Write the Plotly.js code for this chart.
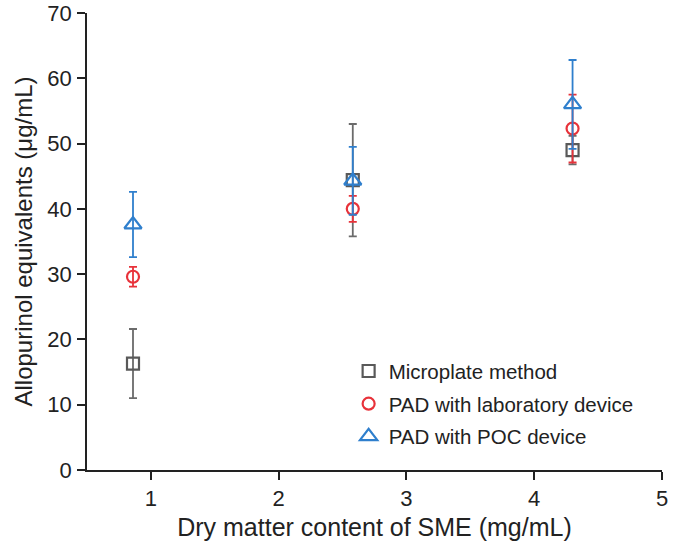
<!DOCTYPE html>
<html><head><meta charset="utf-8">
<script src="https://cdn.plot.ly/plotly-3.0.1.min.js"></script>
<style>body{margin:0;background:#fff}#chart{width:673px;height:547px}</style>
</head><body><div id="chart"></div>
<script>
const seriesNames = ["Microplate method", "PAD with laboratory device", "PAD with POC device"];
const xValues = [0.86, 2.58, 4.3];
const microplateY = [16.3, 44.4, 49.0];
const microplateErr = [5.3, 8.6, 2.2];
const labY = [29.6, 40.0, 52.3];
const labErr = [1.5, 2.0, 5.2];
const pocY = [37.6, 44.3, 56.0];
const pocErr = [5.0, 5.2, 6.8];

const colors = ["#595959", "#e8323a", "#2f7fcd"];
const errColors = ["#6b6b6b", "#e8323a", "#2f7fcd"];
const symbols = ["square-open", "circle-open", "triangle-up-open"];
const sizes = [12, 12, 15];
const ys = [microplateY, labY, pocY];
const errs = [microplateErr, labErr, pocErr];

const traces = seriesNames.map((name, i) => ({
  type: "scatter", mode: "markers", name: name, legendgroup: "g" + i,
  x: xValues, y: ys[i],
  error_y: {type: "data", array: errs[i], visible: true, color: errColors[i], thickness: 1.8, width: 4},
  marker: {symbol: symbols[i], size: sizes[i], color: colors[i], line: {width: 2.2, color: colors[i]}}
}));

const layout = {
  width: 673, height: 547,
  margin: {l: 87, r: 11, t: 13, b: 77},
  paper_bgcolor: "#fff", plot_bgcolor: "#fff",
  font: {family: "Liberation Sans, Arial, sans-serif", color: "#222"},
  showlegend: true,
  legend: {x: 0.455, y: 0.26, xanchor: "left", yanchor: "top", font: {size: 20.5, color: "#222"},
    bgcolor: "rgba(0,0,0,0)", tracegroupgap: 3, itemwidth: 30},
  xaxis: {range: [0.5, 5], tickvals: [1, 2, 3, 4, 5], showgrid: false, zeroline: false,
    showline: true, linecolor: "#222", linewidth: 1.5, ticks: "outside", ticklen: 8, tickwidth: 1.5, tickcolor: "#222",
    tickfont: {size: 22}, title: {text: "Dry matter content of SME (mg/mL)", font: {size: 25}, standoff: 8}},
  yaxis: {range: [0, 70], dtick: 10, showgrid: false, zeroline: false,
    showline: true, linecolor: "#222", linewidth: 1.5, ticks: "outside", ticklen: 8, tickwidth: 1.5, tickcolor: "#222",
    ticklabelstandoff: 1,
    tickfont: {size: 22}, title: {text: "Allopurinol equivalents (μg/mL)", font: {size: 24}, standoff: 8}}
};
Plotly.newPlot("chart", traces, layout, {displayModeBar: false});
</script></body></html>
